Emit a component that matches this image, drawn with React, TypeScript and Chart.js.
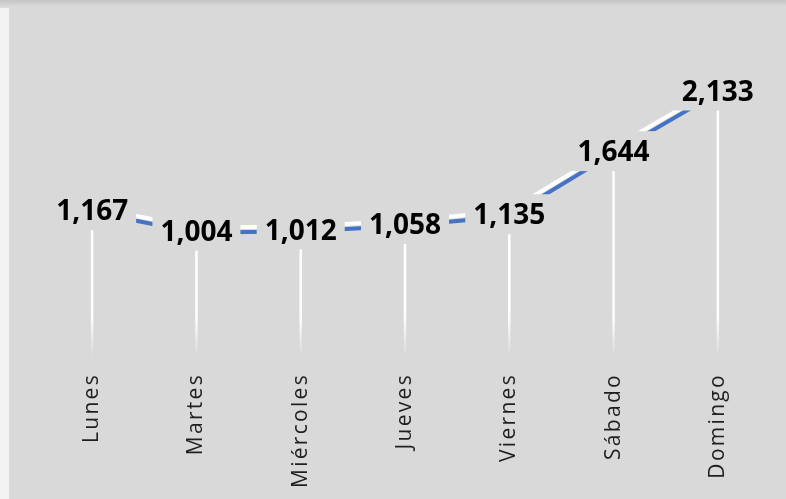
import React, { useEffect, useRef } from "react";
import { Chart, registerables } from "chart.js";

Chart.register(...registerables);

const categories = ["Lunes", "Martes", "Miércoles", "Jueves", "Viernes", "Sábado", "Domingo"];
const values = [1167, 1004, 1012, 1058, 1135, 1644, 2133];
const yMin = 0;
const yMax = 2500;

const PANEL = "#d9d9d9";

const shadowPlugin = {
  id: "lineShadow",
  beforeDatasetDraw(chart: any) {
    const ctx = chart.ctx;
    ctx.save();
    ctx.shadowColor = "#ffffff";
    ctx.shadowOffsetX = -1;
    ctx.shadowOffsetY = -5;
    ctx.shadowBlur = 0;
  },
  afterDatasetDraw(chart: any) {
    chart.ctx.restore();
  },
};

const spacingPlugin = {
  id: "tickSpacing",
  beforeDraw(chart: any) {
    (chart.ctx as any).letterSpacing = "2.3px";
  },
  beforeDatasetsDraw(chart: any) {
    (chart.ctx as any).letterSpacing = "0px";
  },
};

const dropLinePlugin = {
  id: "dropLines",
  beforeDatasetsDraw(chart: any) {
    const ctx = chart.ctx;
    const meta = chart.getDatasetMeta(0);
    const bottom = chart.chartArea.bottom;
    ctx.save();
    meta.data.forEach((pt: any) => {
      const g = ctx.createLinearGradient(0, pt.y, 0, bottom);
      const fadeStart = Math.max(0, Math.min(1, (316 - pt.y) / (bottom - pt.y)));
      g.addColorStop(0, "rgba(255,255,255,1)");
      g.addColorStop(fadeStart, "rgba(255,255,255,1)");
      g.addColorStop(1, "rgba(255,255,255,0)");
      ctx.strokeStyle = g;
      ctx.lineWidth = 2.5;
      ctx.beginPath();
      ctx.moveTo(pt.x, pt.y);
      ctx.lineTo(pt.x, bottom);
      ctx.stroke();
    });
    ctx.restore();
  },
};

const labelPlugin = {
  id: "valueLabels",
  afterDatasetsDraw(chart: any) {
    const ctx = chart.ctx;
    const meta = chart.getDatasetMeta(0);
    const data = chart.data.datasets[0].data as number[];
    ctx.save();
    ctx.font = "bold 28px 'Open Sans'";
    ctx.textAlign = "center";
    ctx.textBaseline = "alphabetic";
    meta.data.forEach((pt: any, i: number) => {
      const text = data[i].toLocaleString("en-US");
      const w = ctx.measureText(text).width;
      const cy = pt.y - 2;
      ctx.fillStyle = PANEL;
      ctx.fillRect(pt.x - w / 2 - 8, cy - 20, w + 16, 40);
      ctx.fillStyle = "#000000";
      ctx.fillText(text, pt.x, cy + 10);
    });
    ctx.restore();
  },
};

export default function App() {
  const ref = useRef<HTMLCanvasElement | null>(null);

  useEffect(() => {
    if (!ref.current) return;
    const chart = new Chart(ref.current, {
      type: "line",
      data: {
        labels: categories,
        datasets: [
          {
            data: values,
            borderColor: "#4472C4",
            borderWidth: 4,
            pointRadius: 0,
            tension: 0,
            fill: false,
          },
        ],
      },
      options: {
        responsive: false,
        animation: false,
        devicePixelRatio: 1,
        layout: { padding: { left: 40, right: 16, top: 47, bottom: 0 } },
        plugins: {
          legend: { display: false },
          tooltip: { enabled: false },
          title: { display: false },
        },
        scales: {
          y: { display: false, min: yMin, max: yMax },
          x: {
            offset: true,
            grid: { display: false, drawTicks: false },
            border: { display: false },
            ticks: {
              autoSkip: false,
              minRotation: 90,
              maxRotation: 90,
              padding: 16,
              color: "#1f1f1f",
              font: { family: "'Open Sans'", size: 21 },
            },
            afterFit(scale: any) {
              scale.height = 142;
            },
          },
        },
      },
      plugins: [spacingPlugin, dropLinePlugin, shadowPlugin, labelPlugin],
    });
    return () => chart.destroy();
  }, []);

  return (
    <div
      style={{
        position: "absolute",
        left: 0,
        top: 0,
        width: 786,
        height: 499,
        overflow: "hidden",
        background: "#f3f3f3",
      }}
    >
      <div
        style={{
          position: "absolute",
          left: 0,
          top: 0,
          width: 786,
          height: 8,
          background: "linear-gradient(to bottom, #c4c4c4, #dedede)",
        }}
      />
      <div
        style={{
          position: "absolute",
          left: 9,
          top: 7,
          width: 777,
          height: 492,
          background: PANEL,
        }}
      />
      <canvas
        ref={ref}
        width={786}
        height={499}
        style={{ position: "absolute", left: 0, top: 0, width: 786, height: 499 }}
      />
    </div>
  );
}
